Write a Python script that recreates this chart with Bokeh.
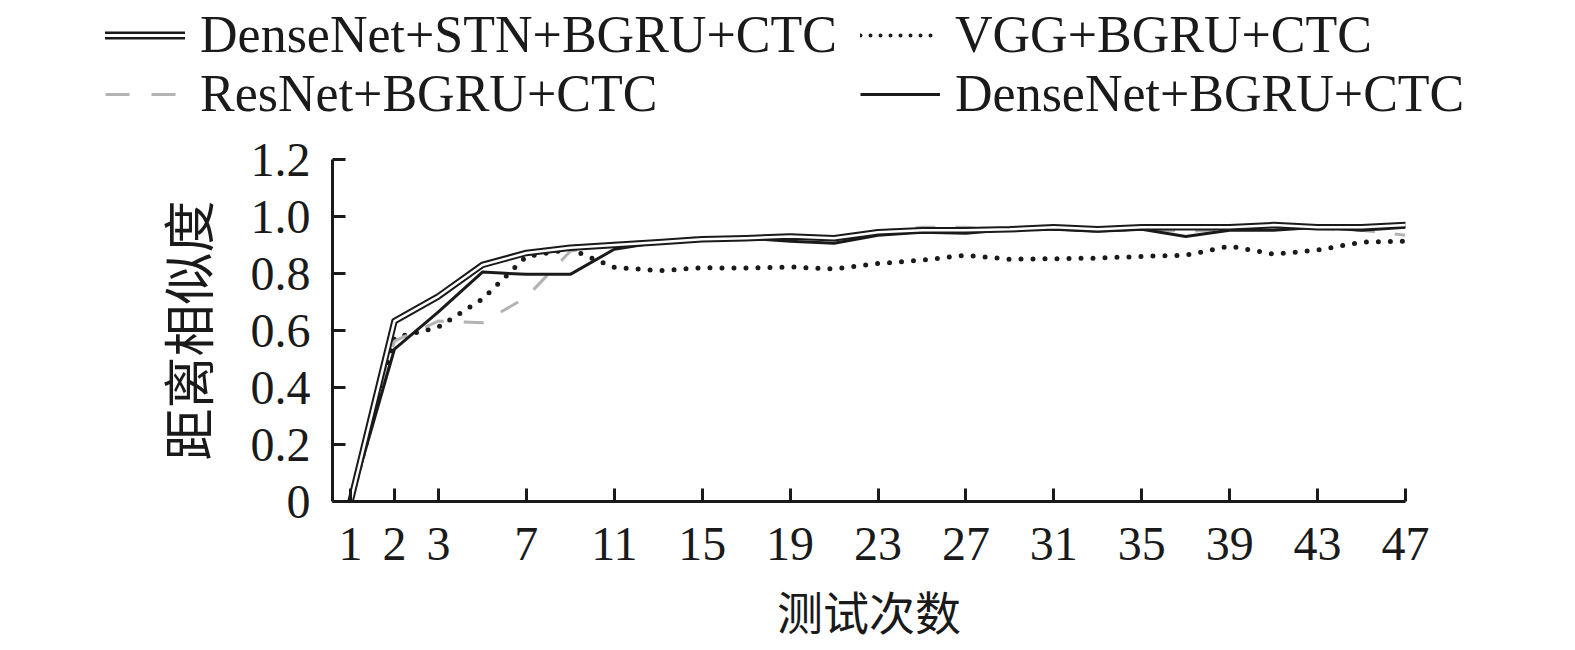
from bokeh.plotting import figure
from bokeh.layouts import column
from bokeh.models import Range1d, FixedTicker, Legend, LegendItem, PrintfTickFormatter
from bokeh.embed import file_html
from bokeh.resources import INLINE

# ---------------- data ----------------
categories = [1, 2, 3, 5, 7, 9, 11, 13, 15, 17, 19, 21, 23, 25, 27, 29, 31, 33, 35, 37, 39, 41, 43, 45, 47]
tick_labels = ["1", "2", "3", "7", "11", "15", "19", "23", "27", "31", "35", "39", "43", "47"]
y_ticks = [0, 0.2, 0.4, 0.6, 0.8, 1.0, 1.2]

names = ["DenseNet+STN+BGRU+CTC", "VGG+BGRU+CTC", "ResNet+BGRU+CTC", "DenseNet+BGRU+CTC"]

stn = [0.0, 0.633, 0.72, 0.83, 0.872, 0.89, 0.90, 0.91, 0.92, 0.924, 0.93, 0.924, 0.945,
       0.952, 0.952, 0.955, 0.962, 0.955, 0.962, 0.962, 0.962, 0.97, 0.962, 0.962, 0.97]
vgg = [0.0, 0.574, 0.612, 0.71, 0.86, 0.885, 0.822, 0.81, 0.82, 0.819, 0.823, 0.816, 0.835,
       0.847, 0.864, 0.85, 0.852, 0.854, 0.86, 0.864, 0.896, 0.868, 0.882, 0.91, 0.913]
resnet = [0.0, 0.563, 0.633, 0.627, 0.717, 0.878, 0.906, 0.913, 0.927, 0.924, 0.924, 0.92, 0.948,
          0.962, 0.962, 0.952, 0.955, 0.948, 0.955, 0.948, 0.955, 0.962, 0.958, 0.952, 0.934]
dense = [0.0, 0.535, 0.665, 0.805, 0.797, 0.797, 0.885, 0.91, 0.92, 0.924, 0.913, 0.906, 0.934,
         0.945, 0.941, 0.955, 0.955, 0.948, 0.955, 0.93, 0.952, 0.952, 0.962, 0.952, 0.962]

# ---------------- styles ----------------
serif = "Liberation Serif"
cjk = "Noto Sans CJK SC"
INK = "#1a1a1a"
styles = {
    "vgg": dict(line_color=INK, line_width=5, line_dash="0 12", line_cap="round"),
    "res": dict(line_color="#b3b3b3", line_width=3, line_dash="20 20"),
    "den": dict(line_color=INK, line_width=3),
    "stn_b": dict(line_color=INK, line_width=6.5, line_join="round", line_cap="round"),
    "stn_w": dict(line_color="white", line_width=2.5, line_join="round", line_cap="round"),
}

TOTAL_W = 1520
LEG_H = 130

# ---------------- main figure ----------------
xs = list(range(len(categories)))
tick_pos = [categories.index(int(t)) for t in tick_labels]

p = figure(output_backend="svg", toolbar_location=None,
           frame_width=1073, frame_height=342,
           min_border_left=332, min_border_top=159 - LEG_H,
           min_border_right=TOTAL_W - 332 - 1073, min_border_bottom=10,
           x_range=Range1d(-0.41, 24), y_range=Range1d(0, 1.2))
p.frame_align = False
p.outline_line_color = None
p.xgrid.visible = False
p.ygrid.visible = False

p.line(xs, vgg, **styles["vgg"])
p.line(xs, resnet, **styles["res"])
p.line(xs, dense, **styles["den"])
p.line(xs, stn, **styles["stn_b"])
p.line(xs, stn, **styles["stn_w"])

for ax in (p.xaxis[0], p.yaxis[0]):
    ax.axis_line_width = 3
    ax.axis_line_color = INK
    ax.major_tick_line_width = 3
    ax.major_tick_line_color = INK
    ax.major_tick_in = 13
    ax.major_tick_out = 0
    ax.minor_tick_line_color = None
    ax.major_label_text_font = serif
    ax.major_label_text_font_size = "48px"
    ax.major_label_text_color = INK
    ax.axis_label_text_font = cjk
    ax.axis_label_text_font_style = "normal"
    ax.axis_label_text_color = INK

p.xaxis[0].ticker = FixedTicker(ticks=tick_pos, minor_ticks=[])
p.xaxis[0].major_label_overrides = {pos: lab for pos, lab in zip(tick_pos, tick_labels)}
p.xaxis[0].major_label_standoff = 26
p.xaxis[0].axis_label = "测试次数"
p.xaxis[0].axis_label_text_font_size = "46px"
p.xaxis[0].axis_label_standoff = 14

p.yaxis[0].ticker = FixedTicker(ticks=y_ticks, minor_ticks=[])
p.yaxis[0].formatter = PrintfTickFormatter(format="%.1f")
p.yaxis[0].major_label_overrides = {0: "0"}
p.yaxis[0].major_label_standoff = 22
p.yaxis[0].axis_label = "距离相似度"
p.yaxis[0].axis_label_text_font_size = "52px"
p.yaxis[0].axis_label_standoff = 24

# ---------------- legend strip ----------------
# the series are drawn here outside the visible y-range; only their legend glyphs show
lg = figure(output_backend="svg", toolbar_location=None, width=TOTAL_W, height=LEG_H,
            x_axis_type=None, y_axis_type=None, min_border=0,
            x_range=Range1d(-0.41, 24), y_range=Range1d(10, 11))
lg.frame_align = False
lg.outline_line_color = None
lg.xgrid.visible = False
lg.ygrid.visible = False
l_vgg = lg.line(xs, vgg, **dict(styles["vgg"], line_width=4, line_dash="0 10"))
l_res = lg.line(xs, resnet, **dict(styles["res"], line_dash="24 22"))
l_den = lg.line(xs, dense, **styles["den"])
l_stn_b = lg.line(xs, stn, **dict(styles["stn_b"], line_width=8))
l_stn_w = lg.line(xs, stn, **dict(styles["stn_w"], line_width=3))


def make_legend(items, loc):
    leg = Legend(items=items, location=loc)
    leg.label_text_font = serif
    leg.label_text_font_size = "52px"
    leg.label_text_color = INK
    leg.glyph_width = 80
    leg.glyph_height = 40
    leg.label_standoff = 15
    leg.padding = 0
    leg.margin = 0
    leg.spacing = 0
    leg.border_line_alpha = 0
    leg.background_fill_alpha = 0
    return leg


lg.add_layout(make_legend([LegendItem(label=names[0], renderers=[l_stn_b, l_stn_w]),
                           LegendItem(label=names[2], renderers=[l_res])], (105, 7)))
lg.add_layout(make_legend([LegendItem(label=names[1], renderers=[l_vgg]),
                           LegendItem(label=names[3], renderers=[l_den])], (860, 7)))

layout = column(lg, p, spacing=0)
open("out.html", "w").write(file_html(layout, INLINE))
